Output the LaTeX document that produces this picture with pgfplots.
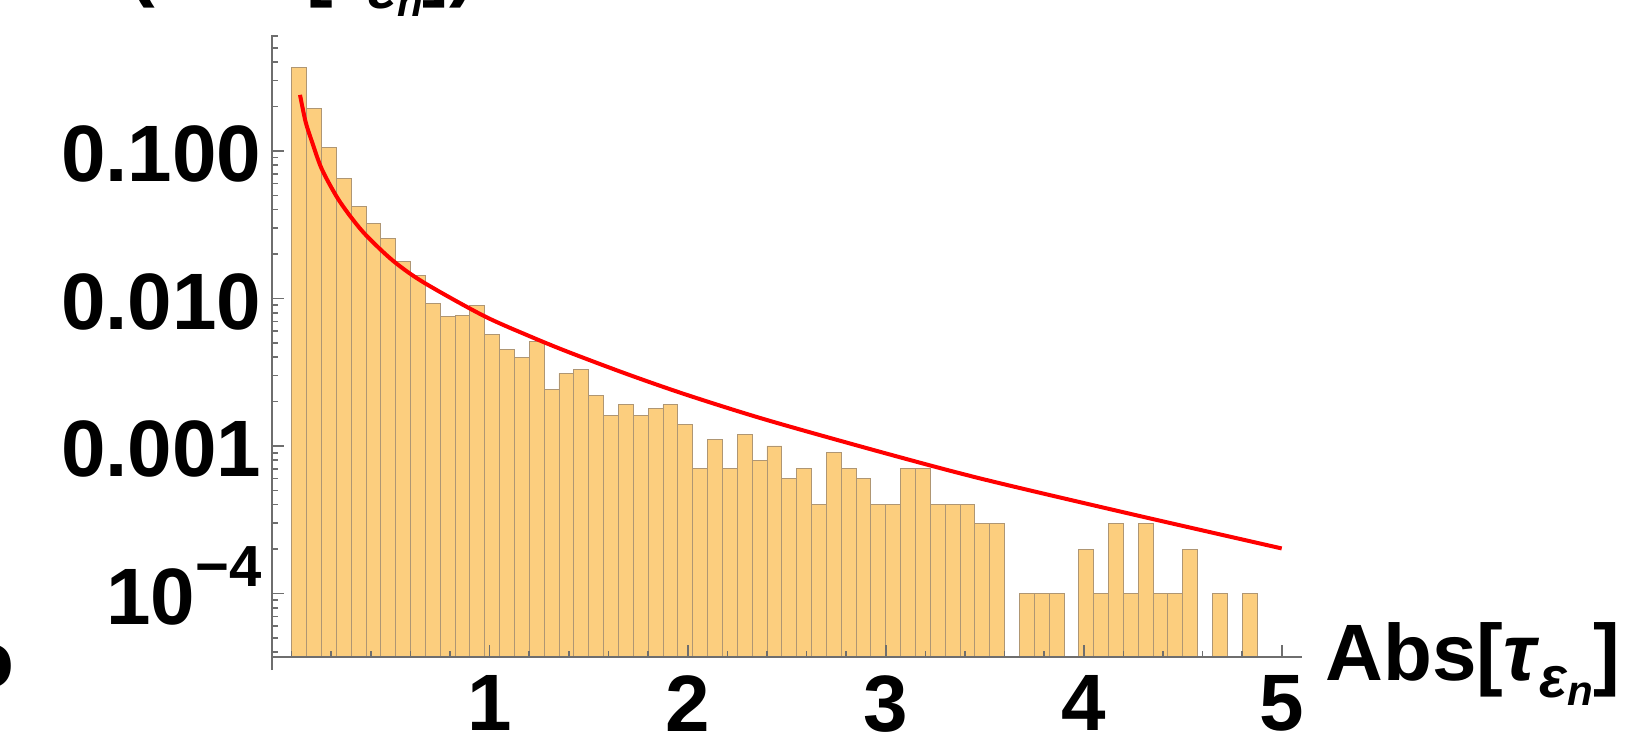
\documentclass[border=0pt]{standalone}
\usepackage{fontspec}
\setmainfont{Liberation Sans}
\usepackage{pgfplots}
\pgfplotsset{compat=1.18}
\definecolor{barfill}{RGB}{252,206,126}
\definecolor{baredge}{RGB}{175,150,115}
\definecolor{axgray}{RGB}{110,110,110}
\newcommand{\lblfont}{\fontsize{40bp}{48bp}\selectfont\bfseries}
\begin{document}
\begin{tikzpicture}
\useasboundingbox (-135.85bp,-44.5bp) rectangle (677.15bp,328.5bp);
\clip (-135.85bp,-44.5bp) rectangle (677.15bp,328.5bp);
\begin{axis}[
  at={(0,0)}, anchor=south west,
  scale only axis, width=515bp, height=311bp,
  xmin=-0.101, xmax=5.101,
  ymode=log, ymin=3.71e-5, ymax=0.611,
  log origin y=infty,
  axis lines=left,
  axis line style={-, draw=axgray, line width=1bp},
  y axis line style={shorten <=-6.5bp},
  axis on top,
  tick align=inside,
  tick style={draw=axgray, line width=0.8bp},
  major tick length=6bp, minor tick length=3bp,
  xtick={1,2,3,4,5}, xticklabels={1,2,3,4,5},
  minor xtick={0,0.2,...,5},
  ytick={1e-4,1e-3,1e-2,1e-1},
  yticklabels={10\raisebox{18.8bp}{\fontsize{29bp}{30bp}\selectfont −4},0.001,0.010,0.100},
  minor ytick={4e-5,5e-5,6e-5,7e-5,8e-5,9e-5,2e-4,3e-4,4e-4,5e-4,6e-4,7e-4,8e-4,9e-4,2e-3,3e-3,4e-3,5e-3,6e-3,7e-3,8e-3,9e-3,2e-2,3e-2,4e-2,5e-2,6e-2,7e-2,8e-2,9e-2,0.2,0.3,0.4,0.5,0.6},
  /pgf/number format/assume math mode=true,
  ticklabel style={font=\lblfont, inner sep=0pt},
  xticklabel style={anchor=north, yshift=-9bp},
  yticklabel style={anchor=base east, xshift=-5bp, yshift=-15.5bp},
  clip mode=individual,
]
\addplot[ybar, bar width=0.075, fill=barfill, draw=baredge, line width=0.4bp] coordinates {
(0.0375,0.369) (0.1125,0.195) (0.1875,0.106) (0.2625,0.0653) (0.3375,0.0419)
(0.4125,0.0324) (0.4875,0.0256) (0.5625,0.0179) (0.6375,0.0144) (0.7125,0.0093)
(0.7875,0.0075) (0.8625,0.0077) (0.9375,0.0090) (1.0125,0.0057) (1.0875,0.0045)
(1.1625,0.0040) (1.2375,0.0051) (1.3125,0.0024) (1.3875,0.0031) (1.4625,0.0033)
(1.5375,0.0022) (1.6125,0.0016) (1.6875,0.0019) (1.7625,0.0016) (1.8375,0.0018)
(1.9125,0.0019) (1.9875,0.0014) (2.0625,0.0007) (2.1375,0.0011) (2.2125,0.0007)
(2.2875,0.0012) (2.3625,0.0008) (2.4375,0.0010) (2.5125,0.0006) (2.5875,0.0007)
(2.6625,0.0004) (2.7375,0.0009) (2.8125,0.0007) (2.8875,0.0006) (2.9625,0.0004)
(3.0375,0.0004) (3.1125,0.0007) (3.1875,0.0007) (3.2625,0.0004) (3.3375,0.0004)
(3.4125,0.0004) (3.4875,0.0003) (3.5625,0.0003)
(3.7125,0.0001) (3.7875,0.0001) (3.8625,0.0001)
(4.0125,0.0002) (4.0875,0.0001) (4.1625,0.0003) (4.2375,0.0001) (4.3125,0.0003)
(4.3875,0.0001) (4.4625,0.0001) (4.5375,0.0002)
(4.6875,0.0001) (4.8375,0.0001)
};
\addplot[red, line width=2bp, smooth] coordinates {
(0.042,0.240) (0.07,0.158) (0.101,0.117) (0.151,0.0759) (0.227,0.0490)
(0.3,0.0355) (0.378,0.0266) (0.512,0.0180) (0.664,0.0129) (0.966,0.00767)
(1.2,0.00556) (1.4,0.00432) (1.7,0.00305) (2.0,0.00221) (2.4,0.00150)
(3.0,0.000891) (3.5,0.000592) (4.25,0.000343) (5.0,0.000202)
};
\node[anchor=base west, inner sep=0pt, font=\lblfont, xshift=11.7bp, yshift=-11.5bp] at (rel axis cs:1,0)
  {Abs[\textit{τ}\raisebox{-8.5bp}{\fontsize{29bp}{30bp}\selectfont\textit{ε}\raisebox{-4bp}{\fontsize{21bp}{22bp}\selectfont\textit{n}}}]};
\end{axis}
\node[anchor=base west, inner sep=0pt, font=\lblfont] at (-71.85bp,332.5bp)
  {(Abs[\textit{τ}\raisebox{-8.5bp}{\fontsize{29bp}{30bp}\selectfont\textit{ε}\raisebox{-4bp}{\fontsize{21bp}{22bp}\selectfont\textit{n}}}])};
\node[anchor=base east, inner sep=0pt, font=\lblfont] at (-128.25bp,-15bp) {o};
\end{tikzpicture}
\end{document}
